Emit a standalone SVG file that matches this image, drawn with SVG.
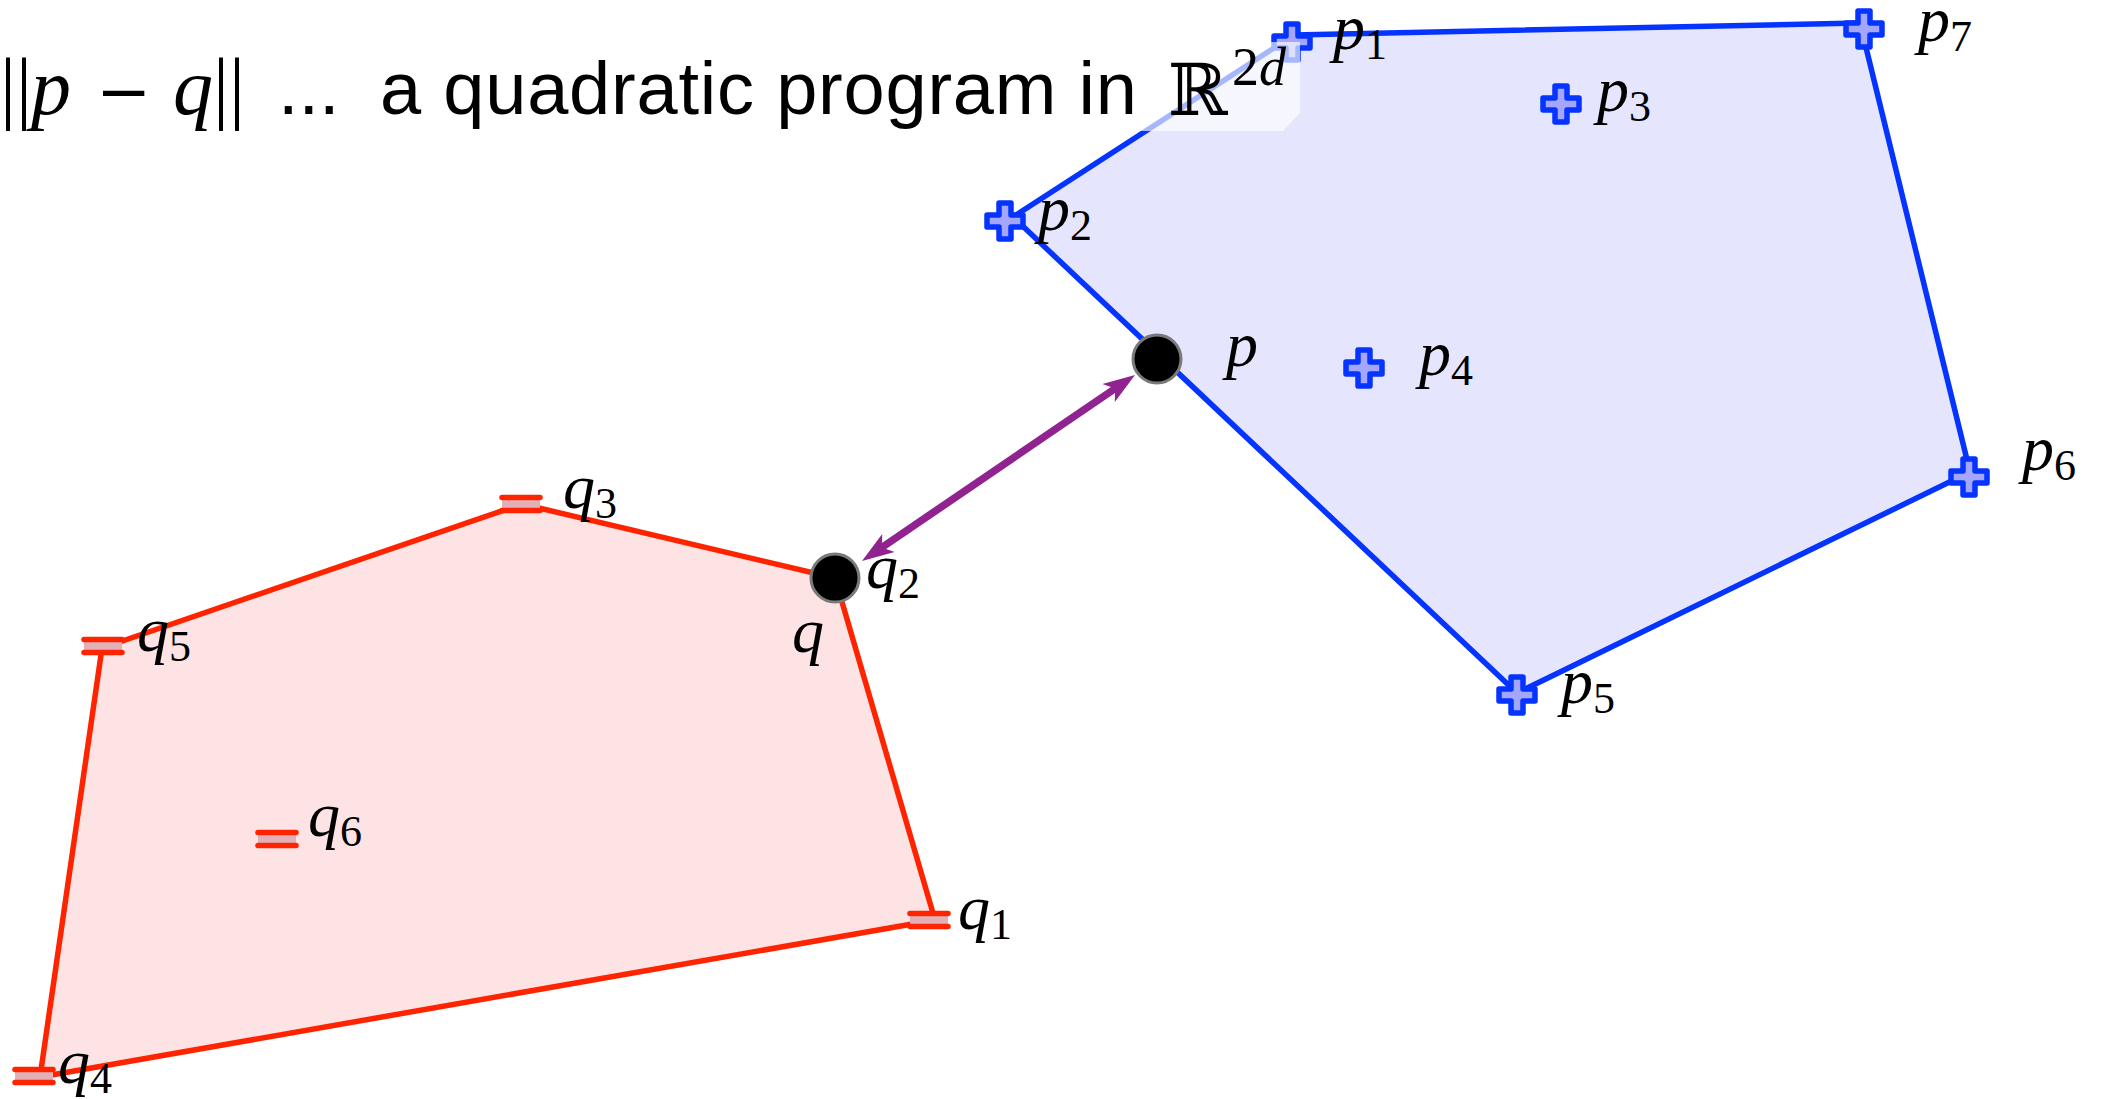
<svg xmlns="http://www.w3.org/2000/svg" width="2109" height="1099" viewBox="0 0 2109 1099">
<style>
.bg{fill:#ffffff}
.hullP{fill:#e5e5fd;stroke:#0533ff;stroke-width:5.5;stroke-linejoin:round}
.hullQ{fill:#fee3e5;stroke:#ff2400;stroke-width:5.5;stroke-linejoin:round}
.cross{fill:#a3a6fa;stroke:#0533ff;stroke-width:5.5;stroke-linejoin:round}
.bar{stroke:#ff2400;stroke-width:5.5;stroke-linecap:round}
.barfill{fill:#e2b0b8}
.pt{fill:#000000;stroke:#7a7a7a;stroke-width:3}
.lbl{font-family:"Liberation Serif","DejaVu Serif",serif;font-style:italic;font-size:64px;fill:#000}
.sub{font-style:normal;font-size:44px}
.arrow{stroke:#912390;stroke-width:7.5;fill:none}
.ttl{font-family:"Liberation Sans",Arial,sans-serif;font-size:74px;fill:#000}
.mth{font-family:"Liberation Serif","DejaVu Serif",serif;font-size:80px;fill:#000}
.it{font-style:italic}
</style>
<defs>
<path id="crs" d="M-6,-18 h12 v12 h12 v12 h-12 v12 h-12 v-12 h-12 v-12 h12 z"/>
<g id="eq">
<rect x="-19" y="-6.5" width="38" height="13" class="barfill"/>
<line x1="-19" y1="-6.5" x2="19" y2="-6.5" class="bar"/>
<line x1="-19" y1="6.5" x2="19" y2="6.5" class="bar"/>
</g>
<marker id="ah" markerUnits="userSpaceOnUse" viewBox="-18 -14 38 28" markerWidth="38" markerHeight="28" refX="0" refY="0" orient="auto-start-reverse" overflow="visible">
<path d="M16,0 L-16,-11 L-8,0 L-16,11 Z" fill="#912390"/>
</marker>
</defs>
<rect class="bg" x="0" y="0" width="2109" height="1099"/>

<g id="hulls">
<polygon class="hullP" points="1294,35 1860,23 1970,472 1517,693 1013,217"/>
<polygon class="hullQ" points="40,1077 935,920 835,578 522,504 102,648"/>
</g>

<g id="connectors">
<line class="arrow" x1="875.2" y1="552" x2="1121.8" y2="384" marker-start="url(#ah)" marker-end="url(#ah)"/>
</g>

<g id="node-p1"><use href="#crs" class="cross" x="1292" y="42"/><text class="lbl" x="1333" y="49">p<tspan class="sub" dy="10">1</tspan></text></g>
<g id="node-p2"><use href="#crs" class="cross" x="1005" y="221"/><text class="lbl" x="1038" y="230">p<tspan class="sub" dy="10">2</tspan></text></g>
<g id="node-p3"><use href="#crs" class="cross" x="1561" y="104"/><text class="lbl" x="1597" y="111">p<tspan class="sub" dy="10">3</tspan></text></g>
<g id="node-p4"><use href="#crs" class="cross" x="1364" y="368"/><text class="lbl" x="1419" y="375">p<tspan class="sub" dy="10">4</tspan></text></g>
<g id="node-p5"><use href="#crs" class="cross" x="1517" y="695"/><text class="lbl" x="1561" y="703">p<tspan class="sub" dy="10">5</tspan></text></g>
<g id="node-p6"><use href="#crs" class="cross" x="1969" y="477"/><text class="lbl" x="2022" y="470">p<tspan class="sub" dy="10">6</tspan></text></g>
<g id="node-p7"><use href="#crs" class="cross" x="1864" y="29"/><text class="lbl" x="1918" y="41">p<tspan class="sub" dy="10">7</tspan></text></g>

<g id="node-q1"><use href="#eq" x="929" y="920"/><text class="lbl" x="958" y="929">q<tspan class="sub" dy="10">1</tspan></text></g>
<g id="node-q3"><use href="#eq" x="521" y="504"/><text class="lbl" x="563" y="508">q<tspan class="sub" dy="10">3</tspan></text></g>
<g id="node-q4"><use href="#eq" x="34" y="1076"/><text class="lbl" x="58" y="1083">q<tspan class="sub" dy="10">4</tspan></text></g>
<g id="node-q5"><use href="#eq" x="103" y="646"/><text class="lbl" x="137" y="651">q<tspan class="sub" dy="10">5</tspan></text></g>
<g id="node-q6"><use href="#eq" x="277" y="839"/><text class="lbl" x="308" y="836">q<tspan class="sub" dy="10">6</tspan></text></g>

<g id="node-p"><circle class="pt" cx="1157" cy="359" r="24"/><text class="lbl" x="1226" y="366">p</text></g>
<g id="node-q"><circle class="pt" cx="835" cy="578" r="24"/><text class="lbl" x="866" y="588">q<tspan class="sub" dy="10">2</tspan></text><text class="lbl" x="792" y="652">q</text></g>

<g id="title">
<polygon points="-5,42 1300,42 1300,113 1283,131 -5,131" fill="#ffffff" fill-opacity="0.65"/>
<text class="mth" x="0" y="114">||</text>
<text class="mth it" x="31" y="114">p</text>
<text x="96" y="114" font-family="'DejaVu Serif',serif" font-size="66px" fill="#000">−</text>
<text class="mth it" x="173" y="114">q</text>
<text class="mth" x="213" y="114">||</text>
<text class="ttl" x="278" y="114">...</text>
<text class="ttl" x="380" y="114" textLength="757" lengthAdjust="spacing">a quadratic program in</text>
<text x="1168" y="115" font-family="'DejaVu Serif',serif" font-size="72px" fill="#000">ℝ</text>
<text x="1232" y="85" font-family="'Liberation Serif',serif" font-size="54px" fill="#000">2<tspan font-style="italic">d</tspan></text>
</g>
</svg>
